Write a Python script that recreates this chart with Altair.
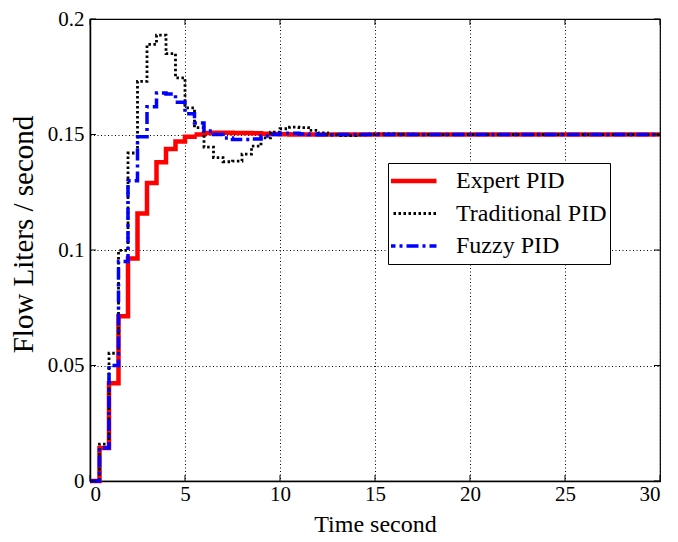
import altair as alt
import pandas as pd

time = [0, 0.5, 1.0, 1.5, 2.0, 2.5, 3.0, 3.5, 4.0, 4.5, 5.0, 5.5, 6.0, 6.5, 7.0, 7.5,
        8.0, 8.5, 9.0, 9.5, 10.0, 10.5, 11.0, 11.5, 12.0, 12.5, 13.0, 13.5, 14.0, 14.5,
        15.0, 15.5, 16.0, 16.5, 17.0, 17.5, 18.0, 18.5, 19.0, 19.5, 20.0, 20.5, 21.0,
        21.5, 22.0, 22.5, 23.0, 23.5, 24.0, 24.5, 25.0, 25.5, 26.0, 26.5, 27.0, 27.5,
        28.0, 28.5, 29.0, 29.5, 30.0]

expert = [0, 0.0143, 0.0423, 0.0713, 0.0963, 0.1158, 0.1290, 0.1380, 0.1437, 0.1470,
          0.1490, 0.1500, 0.1507, 0.1508, 0.1508, 0.1507, 0.1506, 0.1505, 0.1503, 0.1502,
          0.1501, 0.150, 0.150, 0.150, 0.150, 0.150, 0.150, 0.150, 0.150, 0.150,
          0.150, 0.150, 0.150, 0.150, 0.150, 0.150, 0.150, 0.150, 0.150, 0.150,
          0.150, 0.150, 0.150, 0.150, 0.150, 0.150, 0.150, 0.150, 0.150, 0.150,
          0.150, 0.150, 0.150, 0.150, 0.150, 0.150, 0.150, 0.150, 0.150, 0.150,
          0.150]

traditional = [0, 0.0160, 0.0553, 0.0998, 0.1420, 0.1730, 0.1890, 0.1930, 0.1850, 0.1745,
               0.1615, 0.1530, 0.1445, 0.1400, 0.1382, 0.1385, 0.1415, 0.1450, 0.1485, 0.1510,
               0.1525, 0.1532, 0.1530, 0.1518, 0.1507, 0.1499, 0.1495, 0.1495, 0.1498, 0.1501,
               0.1503, 0.1503, 0.1502, 0.1501, 0.1500, 0.150, 0.150, 0.150, 0.150, 0.150,
               0.150, 0.150, 0.150, 0.150, 0.150, 0.150, 0.150, 0.150, 0.150, 0.150,
               0.150, 0.150, 0.150, 0.150, 0.150, 0.150, 0.150, 0.150, 0.150, 0.150,
               0.150]

fuzzy = [0, 0.0143, 0.0500, 0.0950, 0.1300, 0.1490, 0.1620, 0.1680, 0.1675, 0.1640,
         0.1590, 0.1550, 0.1515, 0.1500, 0.1485, 0.1478, 0.1478, 0.1480, 0.1493, 0.1500,
         0.1505, 0.1505, 0.1502, 0.1500, 0.1499, 0.1499, 0.150, 0.150, 0.150, 0.150,
         0.150, 0.150, 0.150, 0.150, 0.150, 0.150, 0.150, 0.150, 0.150, 0.150,
         0.150, 0.150, 0.150, 0.150, 0.150, 0.150, 0.150, 0.150, 0.150, 0.150,
         0.150, 0.150, 0.150, 0.150, 0.150, 0.150, 0.150, 0.150, 0.150, 0.150,
         0.150]

series_names = ["Expert PID", "Traditional PID", "Fuzzy PID"]
series_colors = ["#ff0000", "#000000", "#0000ff"]
series_dash = [[1, 0], [2.5, 2.5], [12, 4, 3, 4]]
series_width = [4.5, 2.8, 3.5]

x_ticks = [0, 5, 10, 15, 20, 25, 30]
y_ticks = [0, 0.05, 0.1, 0.15, 0.2]

rows = []
for name, vals in zip(series_names, [expert, traditional, fuzzy]):
    for t, v in zip(time, vals):
        rows.append({"t": t, "v": v, "series": name})
df = pd.DataFrame(rows)

FONT = "Liberation Serif"

x_enc = alt.X("t:Q", scale=alt.Scale(domain=[0, 30], nice=False),
              axis=alt.Axis(values=x_ticks, title="Time second", grid=True,
                            format="~g"))
y_enc = alt.Y("v:Q", scale=alt.Scale(domain=[0, 0.2], nice=False),
              axis=alt.Axis(values=y_ticks, title="Flow Liters / second", grid=True,
                            format="~g", titleFontSize=29, titleX=-58, titleY=215,
                            titleBaseline="alphabetic"))

width_expr = ("datum.value === '%s' ? %s : datum.value === '%s' ? %s : %s"
              % (series_names[0], series_width[0], series_names[2], series_width[2],
                 series_width[1]))

legend = alt.Legend(orient="none", legendX=298, legendY=144, symbolType="stroke",
                    symbolSize=2809, labelFont=FONT, labelFontSize=24, labelColor="black",
                    strokeColor="black", fillColor="white", padding=3, clipHeight=30,
                    rowPadding=2.5, labelOffset=34, symbolOffset=7, labelLimit=400,
                    cornerRadius=0, symbolStrokeWidth=alt.ExprRef(width_expr))

color_enc = alt.Color("series:N", title=None,
                      scale=alt.Scale(domain=series_names, range=series_colors),
                      legend=legend)
dash_enc = alt.StrokeDash("series:N", title=None,
                          scale=alt.Scale(domain=series_names, range=series_dash),
                          legend=legend)

layers = []
for name, w in zip(series_names, series_width):
    layers.append(
        alt.Chart(df).transform_filter(alt.datum.series == name)
        .mark_line(interpolate="step-after", strokeCap="butt", strokeWidth=w)
        .encode(x=x_enc, y=y_enc, color=color_enc, strokeDash=dash_enc)
    )

xt = pd.DataFrame({"t": x_ticks})
yt = pd.DataFrame({"v": y_ticks})
tick_style = dict(color="black", strokeWidth=1)
ticks_bottom = alt.Chart(xt).mark_rule(**tick_style).encode(
    x="t:Q", y=alt.value(462), y2=alt.value(456))
ticks_top = alt.Chart(xt).mark_rule(**tick_style).encode(
    x="t:Q", y=alt.value(0), y2=alt.value(6))
ticks_left = alt.Chart(yt).mark_rule(**tick_style).encode(
    y="v:Q", x=alt.value(0), x2=alt.value(6))
ticks_right = alt.Chart(yt).mark_rule(**tick_style).encode(
    y="v:Q", x=alt.value(570), x2=alt.value(564))

chart = alt.layer(*layers, ticks_bottom, ticks_top, ticks_left, ticks_right).properties(
    width=570, height=462,
    autosize=alt.AutoSizeParams(type="none"),
    padding={"left": 82, "top": 11, "right": 8, "bottom": 60},
).configure(font=FONT).configure_view(
    stroke="black", strokeWidth=1.2
).configure_axis(
    labelFont=FONT, labelFontSize=21, labelColor="black",
    titleFont=FONT, titleFontSize=24, titleFontWeight="normal", titleColor="black",
    ticks=False, domain=True, domainColor="black", domainWidth=1.5,
    gridColor="black", gridDash=[1, 2.5], gridWidth=1, gridOpacity=1,
).configure_axisX(
    labelPadding=2, titlePadding=8
).configure_axisY(
    labelPadding=6
)

chart.save("out.html", embed_options={"renderer": "svg", "actions": False})
